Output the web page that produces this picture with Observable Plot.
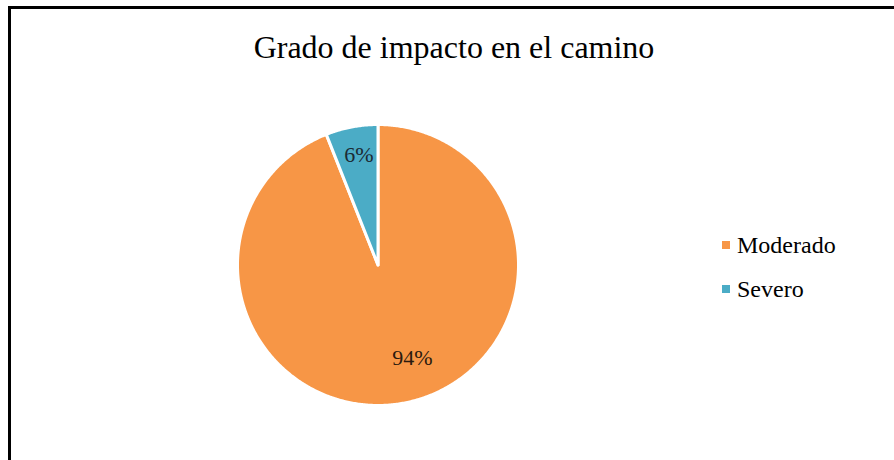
<!DOCTYPE html>
<html>
<head>
<meta charset="utf-8">
<script src="https://cdn.jsdelivr.net/npm/d3@7"></script>
<script src="https://cdn.jsdelivr.net/npm/@observablehq/plot@0.6"></script>
<style>
  html, body { margin: 0; padding: 0; background: #fff; }
  #wrap { position: relative; width: 894px; height: 460px; overflow: hidden; font-family: "Liberation Serif", "Times New Roman", serif; }
  #wrap svg { position: absolute; left: 0; top: 0; }
  #border { position: absolute; left: 8px; top: 6px; width: 1000px; height: 1000px; border-left: 3px solid #000; border-top: 3px solid #000; box-sizing: border-box; }
  #title { position: absolute; left: 454px; top: 31px; transform: translateX(-50%); font-family: "Liberation Serif", "Times New Roman", serif; font-size: 32px; line-height: 1; white-space: nowrap; color: #000; }
  .leg { position: absolute; left: 722px; font-family: "Liberation Serif", "Times New Roman", serif; font-size: 24px; line-height: 1; white-space: nowrap; color: #000; }
  .leg .sw { position: absolute; left: 0; width: 8px; height: 8px; }
  .leg .lab { position: absolute; left: 15px; top: 0; }
</style>
</head>
<body>
<div id="wrap">
  <div id="border"></div>
  <div id="title"></div>
</div>
<script>
const title = "Grado de impacto en el camino";
const categories = ["Moderado", "Severo"];
const values = [94, 6];
const labels = ["94%", "6%"];
const colors = ["#F79646", "#4BACC6"];

const W = 894, H = 460, cx = 377.5, cy = 264.5, R = 140.5;

const arcs = d3.pie().sort(null).value(d => d.v)(categories.map((c, i) => ({cat: c, v: values[i], label: labels[i]})));

const poly = [];
for (const a of arcs) {
  poly.push({cat: a.data.cat, x: 0, y: 0});
  const n = Math.max(4, Math.ceil((a.endAngle - a.startAngle) / (Math.PI / 360)));
  for (let k = 0; k <= n; k++) {
    const t = a.startAngle + (a.endAngle - a.startAngle) * k / n;
    poly.push({cat: a.data.cat, x: Math.sin(t), y: Math.cos(t)});
  }
  poly.push({cat: a.data.cat, x: 0, y: 0});
}

const lab = arcs.map(a => {
  const m = (a.startAngle + a.endAngle) / 2;
  const f = a.data.v < 50 ? 0.8 : 0.7;
  return {cat: a.data.cat, label: a.data.label, x: f * Math.sin(m), y: f * Math.cos(m)};
});

const chart = Plot.plot({
  width: W,
  height: H,
  marginLeft: cx - R,
  marginRight: W - cx - R,
  marginTop: cy - R,
  marginBottom: H - cy - R,
  x: {domain: [-1, 1], axis: null},
  y: {domain: [-1, 1], axis: null},
  color: {domain: categories, range: colors},
  style: {background: "transparent"},
  marks: [
    Plot.line(poly, {x: "x", y: "y", z: "cat", fill: "cat", stroke: "#fff", strokeWidth: 3, strokeLinejoin: "round"}),
    Plot.text(lab.filter(d => d.cat === "Severo"), {x: "x", y: "y", text: "label", fontSize: 22, fill: "#1b2a33", fontFamily: "Liberation Serif, Times New Roman, serif", dx: 2}),
    Plot.text(lab.filter(d => d.cat === "Moderado"), {x: "x", y: "y", text: "label", fontSize: 22, fill: "#2b1a0e", fontFamily: "Liberation Serif, Times New Roman, serif", dx: 16, dy: -4})
  ]
});

const wrap = document.getElementById("wrap");
wrap.insertBefore(chart, wrap.firstChild);
document.getElementById("title").textContent = title;

const legTops = [233, 277];
categories.forEach((c, i) => {
  const d = document.createElement("div");
  d.className = "leg";
  d.style.top = legTops[i] + "px";
  const sw = document.createElement("div");
  sw.className = "sw";
  sw.style.background = colors[i];
  sw.style.top = "8px";
  const t = document.createElement("div");
  t.className = "lab";
  t.textContent = c;
  d.appendChild(sw);
  d.appendChild(t);
  wrap.appendChild(d);
});
</script>
</body>
</html>
